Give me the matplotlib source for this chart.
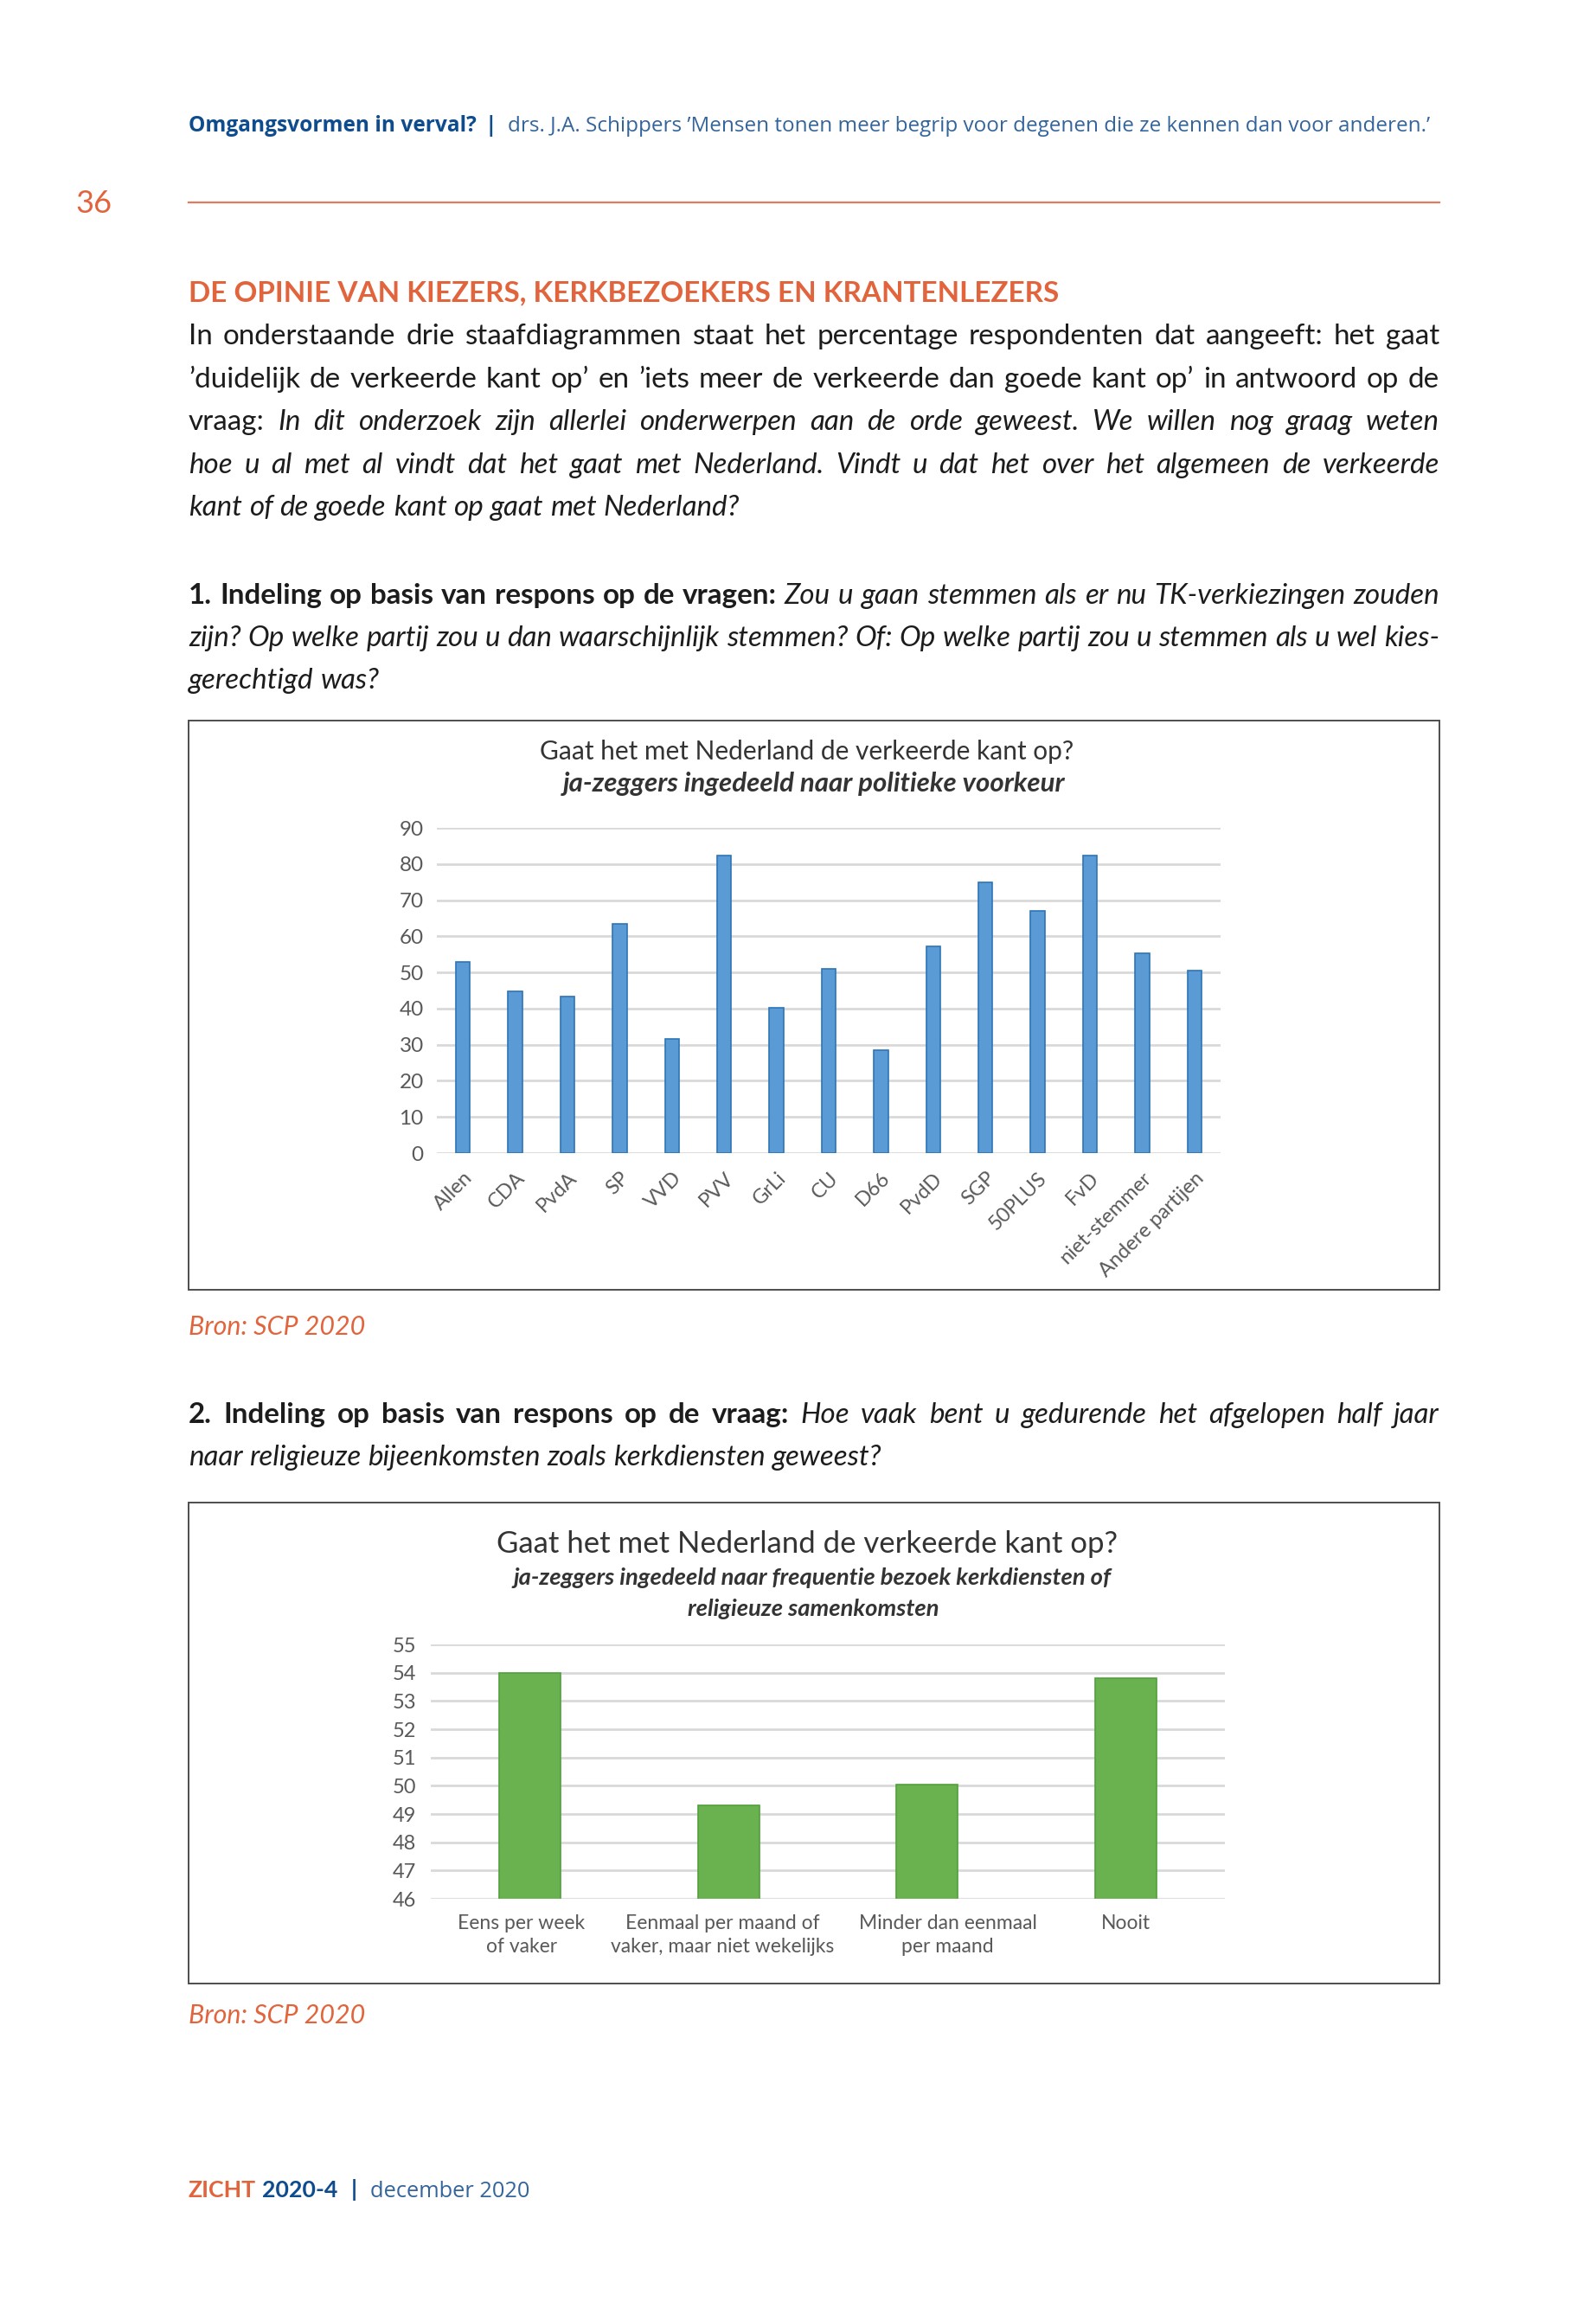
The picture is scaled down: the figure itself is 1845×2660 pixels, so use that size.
import matplotlib
matplotlib.use('Agg')
import matplotlib.pyplot as plt
from matplotlib.patches import Rectangle
from matplotlib.lines import Line2D
from matplotlib.transforms import ScaledTranslation

W, H, DPI = 1845, 2660, 100

# chart 1: ja-zeggers per partij
partijen = ['Allen', 'CDA', 'PvdA', 'SP', 'VVD', 'PVV', 'GrLi', 'CU', 'D66',
            'PvdD', 'SGP', '50PLUS', 'FvD', 'niet-stemmer', 'Andere partijen']
ja_partij = [52.8, 44.7, 43.3, 63.4, 31.5, 82.3, 40.1, 51.0, 28.6,
             57.3, 74.9, 67.1, 82.3, 55.3, 50.6]
partij_ticks = [0, 10, 20, 30, 40, 50, 60, 70, 80, 90]

# chart 2: ja-zeggers per kerkbezoek
kerk = ['Eens per week\nof vaker', 'Eenmaal per maand of\nvaker, maar niet wekelijks',
        'Minder dan eenmaal\nper maand', 'Nooit']
ja_kerk = [54.0, 49.3, 50.05, 53.8]
kerk_ticks = [46, 47, 48, 49, 50, 51, 52, 53, 54, 55]

ORANGE = '#E2643C'
NAVY = '#0E4C8E'
BLUE = '#33649B'
INK = '#1c1c1c'
GRAY = '#595959'

fig = plt.figure(figsize=(W / DPI, H / DPI), dpi=DPI)
fig.patch.set_facecolor('white')
rend = fig.canvas.get_renderer()


def fx(x):
    return x / W


def fy(y):
    return 1 - y / H


def width_of(s, **st):
    t = fig.text(0, 0, s, **st)
    w = t.get_window_extent(rend).width
    t.remove()
    return w


def fit(s, target, **st):
    return 10 * target / width_of(s, fontsize=10, **st)


def line(x, y, parts, width=None):
    words = []
    for text, st in parts:
        for w in text.split():
            words.append((w, st))
    widths = [width_of(w, **st) for w, st in words]
    if width is None:
        st = words[0][1]
        gap = width_of('a a', **st) - width_of('aa', **st)
    else:
        gap = (width - sum(widths)) / (len(words) - 1)
    for (w, st), ww in zip(words, widths):
        fig.text(fx(x), fy(y), w, va='baseline', **st)
        x += ww + gap


# header
hb = dict(family='Open Sans', weight='bold', color=NAVY)
hl = dict(family='Open Sans', color=BLUE)
s = fit('Omgangsvormen in verval?', 333, **hb)
fig.text(fx(218), fy(152), 'Omgangsvormen in verval?', fontsize=s, va='baseline', **hb)
fig.text(fx(561), fy(152), '|', fontsize=s, va='baseline', **hb)
txt = 'drs. J.A. Schippers ’Mensen tonen meer begrip voor degenen die ze kennen dan voor anderen.’'
fig.text(fx(587), fy(152), txt, fontsize=fit(txt, 1059, **hl), va='baseline', **hl)
fig.add_artist(Line2D([fx(218), fx(1664)], [fy(234), fy(234)], transform=fig.transFigure,
                      color='#E27B5E', lw=1.6))
fig.text(fx(87), fy(246), '36', family='Lato', color=ORANGE,
         fontsize=fit('36', 42, family='Lato'), va='baseline')

# heading + body
hd = dict(family='Lato', weight='bold', color=ORANGE)
txt = 'DE OPINIE VAN KIEZERS, KERKBEZOEKERS EN KRANTENLEZERS'
fig.text(fx(218), fy(348), txt, fontsize=fit(txt, 1008, **hd), va='baseline', **hd)

X0, TW = 218, 1446
longest = 'zijn? Op welke partij zou u dan waarschijnlijk stemmen? Of: Op welke partij zou u stemmen als u wel kies-'
N = dict(family='Lato', color=INK)
N['fontsize'] = fit(longest, TW - 6, style='italic', **N)
I = dict(N, style='italic')
B = dict(N, weight='bold')

line(X0, 398, [('In onderstaande drie staafdiagrammen staat het percentage respondenten dat aangeeft: het gaat', N)], TW)
line(X0, 448, [('’duidelijk de verkeerde kant op’ en ’iets meer de verkeerde dan goede kant op’ in antwoord op de', N)], TW)
line(X0, 497, [('vraag:', N), ('In dit onderzoek zijn allerlei onderwerpen aan de orde geweest. We willen nog graag weten', I)], TW)
line(X0, 547, [('hoe u al met al vindt dat het gaat met Nederland. Vindt u dat het over het algemeen de verkeerde', I)], TW)
line(X0, 596, [('kant of de goede kant op gaat met Nederland?', I)])

line(X0, 698, [('1. Indeling op basis van respons op de vragen:', B),
               ('Zou u gaan stemmen als er nu TK-verkiezingen zouden', I)], TW)
line(X0, 747, [(longest, I)], TW)
line(X0, 796, [('gerechtigd was?', I)])

bron = dict(family='Lato', style='italic', color=ORANGE)
bs = fit('Bron: SCP 2020', 204, **bron)
fig.text(fx(218), fy(1543), 'Bron: SCP 2020', fontsize=bs, va='baseline', **bron)

line(X0, 1645, [('2. Indeling op basis van respons op de vraag:', B),
                ('Hoe vaak bent u gedurende het afgelopen half jaar', I)], TW)
line(X0, 1694, [('naar religieuze bijeenkomsten zoals kerkdiensten geweest?', I)])

fig.text(fx(218), fy(2339), 'Bron: SCP 2020', fontsize=bs, va='baseline', **bron)

# footer
fb = dict(family='Lato', weight='bold')
fb['fontsize'] = fit('ZICHT 2020-4', 173, **fb)
x2 = 218 + width_of('ZICHT', **fb) + width_of('a a', **fb) - width_of('aa', **fb)
fig.text(fx(218), fy(2540), 'ZICHT', color=ORANGE, va='baseline', **fb)
fig.text(fx(x2), fy(2540), '2020-4', color=NAVY, va='baseline', **fb)
fig.text(fx(406), fy(2540), '|', color=NAVY, va='baseline', **fb)
fig.text(fx(428), fy(2540), 'december 2020', fontsize=fit('december 2020', 184, **hl),
         va='baseline', **hl)

# frames
for top, bot in [(833, 1491), (1737, 2293)]:
    fig.add_artist(Rectangle((fx(218), fy(bot)), (1664 - 218) / W, (bot - top) / H,
                             transform=fig.transFigure, fill=False,
                             edgecolor='#4d4d4d', lw=1.4))

ct = dict(family='Lato', color='#333333')
cs = dict(family='Lato', color='#333333', style='italic', weight='bold')

# chart 1
txt = 'Gaat het met Nederland de verkeerde kant op?'
fig.text(fx(933), fy(869), txt, fontsize=fit(txt, 617, **ct), ha='center', va='center', **ct)
txt = 'ja-zeggers ingedeeld naar politieke voorkeur'
fig.text(fx(941), fy(906), txt, fontsize=fit(txt, 580, **cs), ha='center', va='center', **cs)

ax1 = fig.add_axes([fx(505), fy(1333), (1411 - 505) / W, (1333 - 957) / H])
ax1.bar(range(len(partijen)), ja_partij, width=0.27, color='#5B9BD5',
        edgecolor='#2E75B6', linewidth=1.2, zorder=3)
ax1.set_xlim(-0.5, len(partijen) - 0.5)
ax1.set_ylim(0, 90)
ax1.set_yticks(partij_ticks)
ax1.set_xticks(range(len(partijen)))
ax1.set_xticklabels(partijen, rotation=45, ha='right', rotation_mode='anchor', family='Lato')
ax1.yaxis.grid(True, color='#D9D9D9', linewidth=2)
ax1.set_axisbelow(True)
for sp in ax1.spines.values():
    sp.set_visible(False)
ax1.tick_params(axis='y', length=0, colors=GRAY, labelsize=17.5, pad=11)
ax1.tick_params(axis='x', length=0, colors=GRAY, labelsize=17, pad=13)
for t in ax1.get_yticklabels():
    t.set_family('Lato')

# chart 2
txt = 'Gaat het met Nederland de verkeerde kant op?'
fig.text(fx(933), fy(1785), txt, fontsize=fit(txt, 719, **ct), ha='center', va='center', **ct)
txt = 'ja-zeggers ingedeeld naar frequentie bezoek kerkdiensten of'
ss = fit(txt, 692, **cs)
fig.text(fx(939), fy(1824), txt, fontsize=ss, ha='center', va='center', **cs)
fig.text(fx(940), fy(1860), 'religieuze samenkomsten', fontsize=ss, ha='center', va='center', **cs)

ax2 = fig.add_axes([fx(498), fy(2195), (1416 - 498) / W, (2195 - 1901) / H])
ax2.bar(range(len(kerk)), ja_kerk, width=0.31, color='#6AB150',
        edgecolor='#52A03E', linewidth=1.2, zorder=3)
ax2.set_xlim(-0.5, len(kerk) - 0.5)
ax2.set_ylim(46, 55)
ax2.set_yticks(kerk_ticks)
ax2.set_xticks(range(len(kerk)))
ax2.set_xticklabels(kerk, family='Lato', linespacing=1.35)
ax2.yaxis.grid(True, color='#D9D9D9', linewidth=2)
ax2.set_axisbelow(True)
for sp in ax2.spines.values():
    sp.set_visible(False)
ax2.tick_params(axis='y', length=0, colors=GRAY, labelsize=17, pad=12)
ax2.tick_params(axis='x', length=0, colors=GRAY, labelsize=16.5, pad=13)
for t in ax2.get_yticklabels():
    t.set_family('Lato')
# Excel put the wrapped labels slightly off-centre
for t, dx in zip(ax2.get_xticklabels(), [-10, -7, 24, 0]):
    t.set_transform(t.get_transform() + ScaledTranslation(dx / DPI, 0, fig.dpi_scale_trans))

fig.savefig('out.png', dpi=DPI, facecolor='white')
